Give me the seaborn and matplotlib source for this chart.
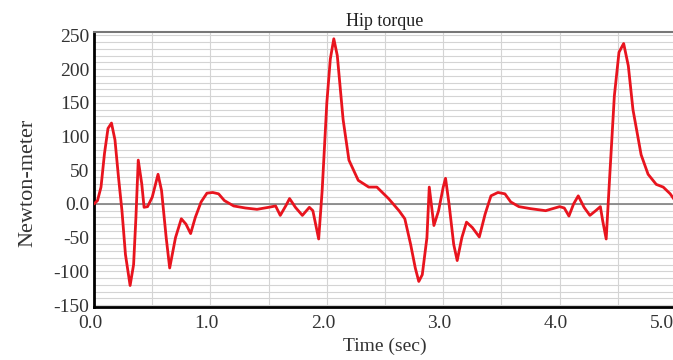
import numpy as np
import pandas as pd
import seaborn as sns
import matplotlib.pyplot as plt
import matplotlib.transforms as mtransforms
from matplotlib.ticker import MultipleLocator

# hip torque
time_sec = [0.00, 0.03, 0.06, 0.09, 0.12, 0.15, 0.18, 0.21, 0.24, 0.27, 0.31, 0.34,
            0.36, 0.38, 0.41, 0.43, 0.46, 0.50, 0.55, 0.58, 0.62, 0.65, 0.70, 0.75,
            0.79, 0.83, 0.87, 0.92, 0.97, 1.02, 1.07, 1.12, 1.20, 1.30, 1.40, 1.50,
            1.56, 1.60, 1.65, 1.68, 1.73, 1.79, 1.85, 1.88, 1.93, 1.96, 2.00, 2.03,
            2.06, 2.09, 2.14, 2.19, 2.27, 2.36, 2.43, 2.53, 2.62, 2.67, 2.72, 2.76,
            2.79, 2.82, 2.86, 2.88, 2.92, 2.96, 3.00, 3.02, 3.05, 3.09, 3.12, 3.16,
            3.20, 3.25, 3.31, 3.36, 3.41, 3.47, 3.53, 3.58, 3.65, 3.75, 3.88, 4.00,
            4.04, 4.08, 4.12, 4.16, 4.21, 4.26, 4.31, 4.35, 4.37, 4.40, 4.43, 4.47,
            4.51, 4.55, 4.59, 4.63, 4.70, 4.76, 4.83, 4.89, 4.95, 5.04]
torque_nm = [0, 5, 25, 75, 112, 120, 95, 40, -10, -75, -121, -90,
             -20, 65, 30, -5, -4, 10, 44, 20, -50, -95, -50, -22,
             -30, -44, -20, 3, 16, 17, 15, 5, -3, -6, -8, -5,
             -3, -17, -2, 8, -5, -17, -5, -10, -52, 20, 150, 215,
             245, 220, 125, 65, 35, 25, 25, 8, -10, -22, -60, -95,
             -115, -105, -50, 25, -32, -10, 25, 38, 0, -60, -84, -50,
             -27, -35, -49, -15, 12, 17, 15, 3, -4, -7, -10, -4,
             -6, -18, 0, 12, -5, -17, -10, -4, -25, -52, 40, 160,
             225, 238, 205, 140, 73, 44, 29, 25, 15, -7]

x_ticks = [0, 1, 2, 3, 4, 5]
x_tick_labels = ["0.0", "1.0", "2.0", "3.0", "4.0", "5.0"]
y_ticks = [250, 200, 150, 100, 50, 0, -50, -100, -150]
y_tick_labels = ["250", "200", "150", "100", "50", "0.0", "-50", "-100", "-150"]

df = pd.DataFrame({"Time": time_sec, "Torque": torque_nm})

sns.set_style("white")
plt.rcParams["font.family"] = ["Liberation Serif", "DejaVu Serif"]

fig = plt.figure(figsize=(6.73, 3.60), dpi=100)
# right edge runs a little past the figure, as in the source image
ax = fig.add_axes([0.1397, 0.147, 0.8648, 0.764])

# grid
ax.xaxis.set_minor_locator(MultipleLocator(0.5))
ax.yaxis.set_minor_locator(MultipleLocator(10))
ax.grid(which="both", color="#d4d4d4", linewidth=0.8)
ax.axhline(0, color="#808080", linewidth=1.2, zorder=1)

sns.lineplot(data=df, x="Time", y="Torque", ax=ax, color="#e8141e",
             linewidth=2, zorder=3)

ax.set_xlim(0, 5.0)
ax.set_ylim(-153, 255)
ax.set_xticks(x_ticks)
ax.set_xticklabels(x_tick_labels)
ax.set_yticks(y_ticks)
ax.set_yticklabels(y_tick_labels)
ax.tick_params(axis="both", which="major", labelsize=14, colors="#333333",
               length=4, direction="in", width=1.2)
ax.tick_params(axis="x", which="major", pad=6)
ax.tick_params(axis="y", which="minor", length=4, direction="in", width=1.2)
ax.tick_params(axis="x", which="minor", length=4, direction="in", width=1)

# x labels sit slightly left of their ticks in the source; last one most
xlabels = ax.get_xticklabels()
for i, lab in enumerate(xlabels):
    dx = -14 if i == len(xlabels) - 1 else -4
    shift = mtransforms.ScaledTranslation(dx / 100, 0, fig.dpi_scale_trans)
    lab.set_transform(lab.get_transform() + shift)

for s in ["left", "bottom"]:
    ax.spines[s].set_color("black")
    ax.spines[s].set_linewidth(2)
ax.spines["top"].set_color("#777777")
ax.spines["top"].set_linewidth(1.5)
ax.spines["right"].set_visible(False)

ax.set_title("Hip torque", fontsize=13, pad=4, color="#222222")
ax.set_xlabel("Time (sec)", fontsize=14, labelpad=4, color="#333333")
ax.set_ylabel("Newton-meter", fontsize=16, color="#333333")
ax.yaxis.set_label_coords(-0.097, 0.45)

fig.savefig("out.png", dpi=100)
